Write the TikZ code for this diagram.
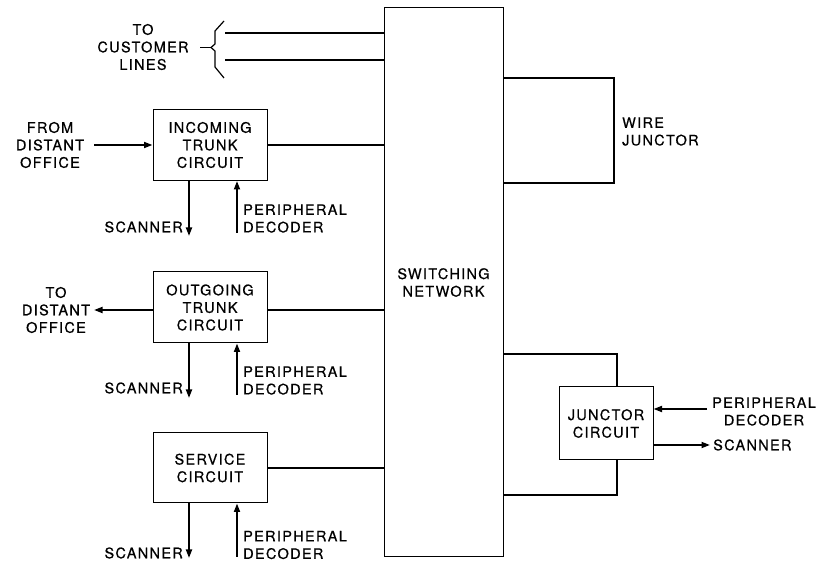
\documentclass[tikz,border=0pt]{standalone}
\usepackage{fontspec}
\setmainfont{TeX Gyre Heros}[LetterSpace=9, FakeBold=0.6]
\usetikzlibrary{arrows.meta}
\begin{document}
\begin{tikzpicture}[x=1pt,y=-1pt,
  every node/.style={font=\fontsize{14.5}{17.5}\selectfont, inner sep=0pt},
  blk/.style={draw, line width=1pt, rectangle, align=center},
  wire/.style={line width=1.6pt},
  sig/.style={line width=1.8pt, -{Triangle[length=8.5pt,width=6pt]}},
  lbl/.style={align=center},
  lbll/.style={align=left, anchor=west},
  lblr/.style={align=right, anchor=east}]
\useasboundingbox (0,0) rectangle (823,561);

% blocks
\node[blk, minimum width=119pt, minimum height=549pt] (sn) at (443.5,282.5) {SWITCHING\\NETWORK};
\node[blk, minimum width=114pt, minimum height=71pt] (inc) at (210,145) {INCOMING\\TRUNK\\CIRCUIT};
\node[blk, minimum width=114pt, minimum height=71pt] (out) at (210,307.5) {OUTGOING\\TRUNK\\CIRCUIT};
\node[blk, minimum width=114pt, minimum height=70pt] (svc) at (210,468) {SERVICE\\CIRCUIT};
\node[blk, minimum width=94pt, minimum height=73pt] (jc) at (606,423.5) {JUNCTOR\\CIRCUIT};

% customer lines
\node[lbl] (cust) at (143,47) {TO\\CUSTOMER\\LINES};
\coordinate (cl1) at (225,33);
\coordinate (cl2) at (225,60);
\coordinate (br) at (211,47.5);
\coordinate (tk) at (200,47.5);
\draw[wire] (cl1) -- (cl1 -| sn.west);
\draw[wire] (cl2) -- (cl2 -| sn.west);
\draw[line width=1.2pt, line join=round] (224,21) -- (215,31) -- (215,44) -- (br) -- (215,51) -- (215,67) -- (224,78);
\draw[line width=1.2pt] (tk) -- (br);

% incoming trunk
\node[lbl] (from) at (50,145) {FROM\\DISTANT\\OFFICE};
\coordinate (fa) at (94,145);
\draw[sig] (fa) -- (fa -| inc.west);
\draw[wire] (inc.east) -- (inc.east -| sn.west);
\coordinate (s1) at (189,236);
\coordinate (d1) at (237,233);
\draw[sig] (inc.south -| s1) -- (s1);
\draw[sig] (d1) -- (d1 |- inc.south);
\node[lblr] (scan1) at (183,227) {SCANNER};
\node[lbll] (dec1) at (243,218.5) {PERIPHERAL\\DECODER};

% outgoing trunk
\node[lbl] (to) at (56,310) {TO\\DISTANT\\OFFICE};
\coordinate (ta) at (94,310);
\draw[sig] (out.west |- ta) -- (ta);
\draw[wire] (out.east |- ta) -- (ta -| sn.west);
\coordinate (s2) at (189,398);
\coordinate (d2) at (237,395);
\draw[sig] (out.south -| s2) -- (s2);
\draw[sig] (d2) -- (d2 |- out.south);
\node[lblr] (scan2) at (183,388) {SCANNER};
\node[lbll] (dec2) at (243,380.5) {PERIPHERAL\\DECODER};

% service circuit
\draw[wire] (svc.east) -- (svc.east -| sn.west);
\coordinate (s3) at (189,558);
\coordinate (d3) at (237,557);
\draw[sig] (svc.south -| s3) -- (s3);
\draw[sig] (d3) -- (d3 |- svc.south);
\node[lblr] (scan3) at (183,553) {SCANNER};
\node[lbll] (dec3) at (243,545) {PERIPHERAL\\DECODER};

% wire junctor
\coordinate (wj1) at (614,78);
\coordinate (wj2) at (614,183);
\draw[wire] (wj1 -| sn.east) -- (wj1) -- (wj2) -- (wj2 -| sn.east);
\node[lbll] (wjl) at (622,131.5) {WIRE\\JUNCTOR};

% junctor circuit
\coordinate (jt) at (617,354);
\coordinate (jb) at (617,495);
\draw[wire] (jt -| sn.east) -- (jt) -- (jt |- jc.north);
\draw[wire] (jc.south -| jb) -- (jb) -- (jb -| sn.east);
\coordinate (jd) at (707,409);
\coordinate (js) at (710,445);
\draw[sig] (jd) -- (jd -| jc.east);
\draw[sig] (jc.east |- js) -- (js);
\node[lbl] (jdec) at (764,411.5) {PERIPHERAL\\DECODER};
\node[lbll] (jscan) at (713,445) {SCANNER};
\end{tikzpicture}
\end{document}
